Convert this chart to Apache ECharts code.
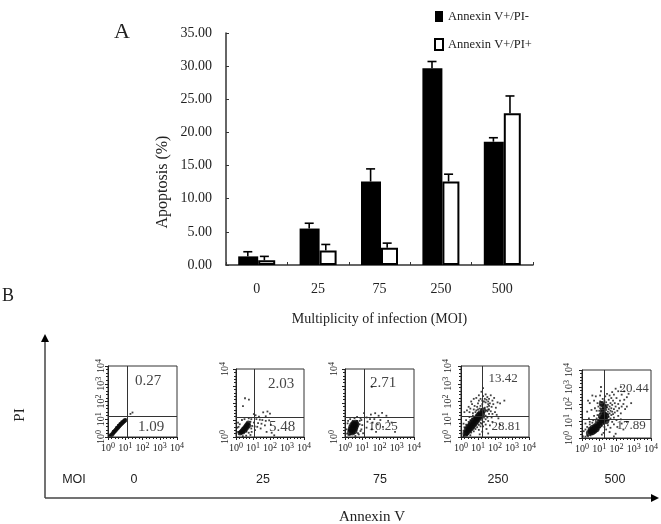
<!DOCTYPE html>
<html><head><meta charset="utf-8">
<style>html,body{margin:0;padding:0;background:#fff}#c{width:661px;height:524px}</style>
<script src="https://cdn.jsdelivr.net/npm/echarts@6/dist/echarts.min.js"></script>
</head><body><div id="c"></div>
<script>
const mois = ['0','25','75','250','500'];
const seriesNames = ['Annexin V+/PI-','Annexin V+/PI+'];
const earlyApoptosis = [1.3,5.5,12.6,29.7,18.6];
const lateApoptosis = [0.7,2.2,2.6,12.6,22.9];
const earlyErrorTop = [2.0,6.3,14.5,30.7,19.2];
const lateErrorTop = [1.3,3.1,3.3,13.7,25.5];
const upperRightPct = ['0.27','2.03','2.71','13.42','20.44'];
const lowerRightPct = ['1.09','5.48','10.25','28.81','17.89'];

const flow0 = [[.12,.08],[.16,.1],[.34,.22],[.42,.32],[.5,.42],[.6,.54],[.7,.64],[.8,.74],[.9,.84],[1.02,1.0],[.3,.34],[.48,.56],[.58,.68],[.68,.78],[.78,.88],[1.3,1.3],[1.42,1.38],[.1,.14],[.06,.06]];
const flow1 = [[.53,2.28],[.76,2.2],[.41,1.82],[1.05,1.35],[1.15,1.28],[1.6,1.45],[1.85,1.5],[2.0,1.38],[1.75,1.22],[1.35,1.2],[1.2,1.05],[1.4,1.02],[1.55,1.0],[1.75,.95],[1.95,.98],[1.3,.82],[1.5,.78],[1.7,.68],[2.05,.72],[1.25,.6],[1.45,.5],[1.8,.3],[2.1,.25],[2.25,.1],[1.05,.85],[1.1,.62],[1.12,.4],[.9,1.05],[.75,1.1],[.5,1.05],[.35,1.0],[.12,.85],[.08,.55],[.12,.3],[.92,.3],[.85,.12],[.6,.08],[.4,.05],[.95,.65],[.85,.9],[.9,.5],[.15,.6],[.22,.75],[.62,.32],[.75,.25]];
const flow2 = [[1.55,2.95],[1.1,1.4],[1.5,1.32],[1.75,1.4],[2.15,1.42],[1.95,1.25],[2.4,1.25],[1.25,1.15],[1.45,1.05],[1.7,1.05],[2.05,1.0],[2.5,.95],[2.7,.85],[1.3,.9],[1.6,.85],[1.9,.75],[2.2,.6],[2.9,.3],[1.25,.55],[1.55,.45],[1.8,.3],[.9,1.1],[.7,1.18],[.55,1.1],[.3,1.05],[.95,1.0],[1.0,.7],[.95,.45],[1.05,.22],[.8,.15],[.6,.06],[.15,.8],[.1,.45],[.12,.2],[.85,.75],[.2,.12],[.22,.4],[.28,.12],[.7,.95],[.85,.95],[.9,.35],[.75,.22],[.45,.95],[.18,.95]];
const flow3 = [[.55,.1],[.2,.12],[.3,.15],[.4,.15],[.6,.25],[.75,.32],[.85,.45],[.95,.55],[1.05,.68],[1.15,.8],[1.25,.95],[1.35,1.1],[1.45,1.2],[1.55,1.45],[1.55,1.7],[1.6,1.55],[1.6,1.85],
[.15,.05],[.35,.1],[.15,.35],[.2,.55],[.3,.7],[.45,.85],[.55,.95],[.65,1.05],[.8,1.1],[.9,1.25],[.7,1.2],[.5,1.12],[.3,.95],[.15,.75],
[.35,1.5],[.5,1.4],[.55,1.6],[.7,1.35],[.75,1.55],[.85,1.4],[.9,1.5],[.95,1.7],[.8,1.75],[.65,1.85],[.6,2.0],[1.0,1.35],[1.0,1.55],[1.0,1.9],[1.05,2.05],[1.15,1.75],[1.15,2.15],[1.25,1.85],[1.25,2.05],[1.3,2.3],[1.35,2.0],[1.4,2.15],[1.45,1.95],[1.45,2.4],[1.5,2.1],[1.55,2.25],[1.6,2.0],[1.65,2.15],[1.65,1.75],[1.7,1.9],[1.75,2.35],[1.8,1.7],[1.85,2.05],[1.9,1.85],[1.95,2.2],[2.05,1.65],[2.15,1.95],[2.3,1.9],[2.55,2.05],[1.05,2.35],[1.3,2.75],[1.2,2.55],[.2,1.4],[.45,1.7],[.75,2.15],[.9,2.2],
[1.15,.6],[1.2,.75],[1.3,.6],[1.35,.85],[1.45,1.0],[1.55,1.1],[1.6,.9],[1.65,1.3],[1.75,1.45],[1.8,1.1],[1.85,1.3],[2.0,1.4],[2.1,1.25],[1.45,.7],[1.5,.45],[1.7,.65],[1.85,.85],[2.2,1.05],[2.3,.7],[1.25,.3],[1.6,.2],[1.05,.4],[1.1,.15],[1.65,1.55],[1.4,1.65],[1.5,1.5],[1.2,1.55],[1.1,1.6],[1.3,1.45]];
const flow4 = [[.2,.08],[.3,.15],[.35,.1],[.5,.15],[.6,.22],[.75,.32],[.85,.4],[.95,.5],[1.05,.62],[1.15,.72],[1.25,.85],[1.35,.98],[1.45,1.05],[.1,.4],[.05,.1],[.2,.5],[.3,.65],[.45,.8],[.6,.9],[.8,1.0],
[.95,1.05],[.85,1.15],[.65,1.05],[.45,.95],[.4,1.15],[.7,1.3],[.9,1.35],[1.0,1.2],[1.05,1.45],[1.15,1.3],[1.2,1.45],[1.25,1.6],[1.3,1.35],[1.3,1.75],[1.35,1.5],[1.35,1.9],[1.4,1.45],[1.4,1.65],[1.45,1.8],[1.5,1.4],[1.5,1.55],[1.5,1.95],[1.55,1.25],[1.55,1.7],[1.6,1.45],[1.6,1.85],[1.65,1.6],[1.65,2.05],[1.7,1.35],[1.7,1.75],[1.75,1.55],[1.75,1.95],[1.8,1.4],[1.8,2.2],[1.85,1.7],[1.9,1.5],[1.9,2.05],[1.95,1.85],[2.0,2.35],[2.05,1.6],[2.1,2.0],[2.15,1.75],[2.2,2.2],[2.25,1.45],[2.3,1.85],[2.4,2.0],[2.5,1.7],[2.6,1.85],[2.3,2.55],[2.1,2.75],[1.95,2.9],[2.25,3.0],[2.45,2.75],[2.6,2.4],[2.7,2.6],[2.85,2.05],[2.45,2.25],[1.85,2.55],[1.7,2.35],[1.75,2.7],
[1.0,1.6],[1.05,1.75],[1.1,1.95],[1.15,1.6],[1.15,2.1],[1.2,1.75],[1.2,2.3],[1.25,2.0],[1.3,2.2],[1.05,2.15],[1.05,2.5],[1.1,2.75],[1.1,3.0],[1.35,2.45],[1.4,2.1],[1.45,2.6],[1.55,2.25],[1.6,2.5],[.95,1.85],[.9,2.05],[.85,1.6],[.75,1.75],[.7,2.2],[.55,1.65],[.45,2.05],[.35,2.2],[.3,1.55],[.6,2.5],[.8,2.45],[.2,.85],
[1.55,1.05],[1.65,1.15],[1.75,.95],[1.85,1.2],[2.0,1.05],[2.1,1.3],[2.25,1.1],[1.5,.75],[1.65,.6],[1.85,.8],[2.05,.65],[2.3,.85],[1.4,.5],[1.6,.35],[1.95,.25],[2.4,.5],[2.6,.95],[1.25,.3],[1.3,.65],[1.15,.2],[1.85,.1]];
const core0 = [[.22,.13],[.28,.2],[.34,.28],[.4,.34],[.46,.41],[.52,.48],[.58,.54],[.64,.6],[.7,.67],[.76,.73],[.82,.79],[.88,.85],[.94,.9],[.99,.94]];
const core1 = [[.24,.24],[.3,.3],[.36,.36],[.4,.3],[.42,.44],[.48,.5],[.5,.38],[.54,.58],[.58,.48],[.6,.66],[.66,.58],[.66,.74],[.72,.82],[.74,.68]];
const core2 = [[.3,.3],[.42,.26],[.54,.34],[.34,.44],[.46,.42],[.58,.48],[.36,.58],[.48,.56],[.62,.62],[.42,.7],[.54,.7],[.66,.74],[.5,.8],[.62,.84]];
const core3 = [[.26,.18],[.34,.26],[.42,.34],[.34,.42],[.5,.42],[.42,.54],[.58,.5],[.5,.62],[.66,.58],[.58,.72],[.74,.68],[.66,.82],[.82,.78],[.74,.92],[.9,.88],[.84,1.0],[.98,.98],[.94,1.1],[1.06,1.08],[1.04,1.22],[1.14,1.18],[1.14,1.34],[1.24,1.3],[1.3,1.5]];
const core4 = [[.4,.3],[.5,.38],[.6,.34],[.5,.5],[.62,.46],[.72,.42],[.62,.6],[.74,.56],[.84,.52],[.76,.68],[.88,.64],[.88,.8],[1.0,.76],[1.02,.92],[1.12,.9],[1.14,1.06],[1.24,1.04],[1.22,1.2],[1.32,1.18],[1.3,1.36],[1.2,1.6],[1.3,1.85],[1.15,2.0],[1.4,.98],[1.4,1.3],[1.1,1.3]];
const flowPoints = [flow0,flow1,flow2,flow3,flow4];
const flowCores = [core0,core1,core2,core3,core4];
const yLabelled = [[0,1,2,3,4],[0,4],[0,4],[0,1,2,3,4],[0,1,2,3,4]];
const gateX = [1.1,1.1,1.1,1.24,1.28];
const gateY = [1.18,1.15,1.15,1.18,1.08];

// layout
const panelBoxes = [[108,366,69,71],[236,369,68,68],[345,369,69,68],[461,366,68,71],[582,370,69,68]];
const upperPos = [[148,381],[281,384],[383,383],[503,379],[634,389]];
const lowerPos = [[151,427],[282,427],[383,427],[506,427],[631,426]];
const upperFont = [15,15,15,13,13];
const lowerFont = [15,15,13,13,13];
const moiPos = [134,263,380,498,615];
const yLabelMargin = [0,4,4,6,6];
const coreSize = [4.5,5,6,6,6];
const serif = '"Liberation Serif"';
const ink = '#222';

const grids = [{left:226,top:33,width:307,height:232}];
const xAxes = [{
  type:'category',data:mois,gridIndex:0,
  axisLine:{lineStyle:{color:'#333',width:1.5}},
  axisTick:{show:true,inside:true,length:3,alignWithLabel:false,lineStyle:{color:'#333'}},
  axisLabel:{color:ink,fontFamily:serif,fontSize:14,margin:17},
  name:'Multiplicity of infection (MOI)',nameLocation:'middle',nameGap:47,
  nameTextStyle:{color:ink,fontFamily:serif,fontSize:14}
}];
const yAxes = [{
  type:'value',min:0,max:35,interval:5,gridIndex:0,
  axisLine:{show:true,lineStyle:{color:'#333',width:1.5}},
  axisTick:{show:true,inside:true,length:3,lineStyle:{color:'#333'}},
  splitLine:{show:false},
  axisLabel:{color:ink,fontFamily:serif,fontSize:14,margin:14,formatter:v=>v.toFixed(2)}
}];

function errorSeries(top,base,frac,name){
  return {
    type:'custom',name:name+' error',z:3,silent:true,
    data:top.map((t,i)=>[i,base[i],t]),
    encode:{x:0,y:2},
    renderItem(p,api){
      const i=api.value(0);
      const band=api.size([1,0])[0];
      const off=band*frac;
      const a=api.coord([i,api.value(1)]), b=api.coord([i,api.value(2)]);
      const x=a[0]+off;
      return {type:'group',children:[
        {type:'line',shape:{x1:x,y1:a[1],x2:x,y2:b[1]},style:{stroke:'#000',lineWidth:1.6}},
        {type:'line',shape:{x1:x-4.5,y1:b[1],x2:x+4.5,y2:b[1]},style:{stroke:'#000',lineWidth:1.6}}
      ]};
    }
  };
}

const series = [
  {type:'bar',name:seriesNames[0],data:earlyApoptosis,barWidth:20,barGap:'0%',itemStyle:{color:'#000',borderColor:'#000',borderWidth:0}},
  {type:'bar',name:seriesNames[1],data:lateApoptosis,barWidth:17,barGap:'0%',itemStyle:{color:'#fff',borderColor:'#000',borderWidth:2}},
  errorSeries(earlyErrorTop,earlyApoptosis,-0.145,seriesNames[0]),
  errorSeries(lateErrorTop,lateApoptosis,0.125,seriesNames[1])
];

const sup = {s:{fontSize:8,verticalAlign:'bottom',padding:[0,0,5,0],fontFamily:serif,color:ink},b:{fontSize:10,fontFamily:serif,color:ink}};
panelBoxes.forEach((b,k)=>{
  const idx=k+1;
  grids.push({left:b[0],top:b[1],width:b[2],height:b[3],show:true,borderColor:'#333',borderWidth:1,backgroundColor:'transparent'});
  const minor={show:true,splitNumber:5,length:2,lineStyle:{color:'#222'}};
  xAxes.push({type:'value',gridIndex:idx,min:0,max:4,interval:1,
    axisLine:{show:true,lineStyle:{color:'#222'}},
    axisTick:{show:true,length:3,lineStyle:{color:'#222'}},minorTick:minor,splitLine:{show:false},minorSplitLine:{show:false},
    axisLabel:{margin:5,hideOverlap:false,showMinLabel:true,showMaxLabel:true,rich:sup,formatter:v=>'{b|10}{s|'+v+'}'}});
  yAxes.push({type:'value',gridIndex:idx,min:0,max:4,interval:1,
    axisLine:{show:true,lineStyle:{color:'#222'}},
    axisTick:{show:true,length:3,lineStyle:{color:'#222'}},minorTick:minor,splitLine:{show:false},minorSplitLine:{show:false},
    axisLabel:{margin:yLabelMargin[k],rotate:90,hideOverlap:false,showMinLabel:true,showMaxLabel:true,rich:sup,
      formatter:v=>yLabelled[k].includes(v)?'{b|10}{s|'+v+'}':''}});
  series.push({type:'scatter',xAxisIndex:idx,yAxisIndex:idx,data:flowPoints[k],symbol:'rect',symbolSize:1.8,silent:true,
    itemStyle:{color:'#111'},
    markLine:{silent:true,symbol:'none',animation:false,label:{show:false},lineStyle:{color:'#333',width:1,type:'solid'},
      data:[{xAxis:gateX[k]},{yAxis:gateY[k]}]}});
  series.push({type:'scatter',xAxisIndex:idx,yAxisIndex:idx,data:flowCores[k],symbol:'circle',symbolSize:coreSize[k],silent:true,
    itemStyle:{color:'#0a0a0a'}});
});

function txt(x,y,text,font,family,extra){
  return {type:'text',x,y,style:Object.assign({text,fontSize:font,fontFamily:family,fill:ink,align:'center',verticalAlign:'middle'},extra||{})};
}
const graphics = [
  txt(122,32,'A',22,serif),
  txt(8,296,'B',18,serif),
  {type:'text',x:163,y:182,rotation:Math.PI/2,style:{text:'Apoptosis (%)',fontSize:16,fontFamily:serif,fill:ink,align:'center',verticalAlign:'middle'}},
  {type:'text',x:20,y:415,rotation:Math.PI/2,style:{text:'PI',fontSize:15,fontFamily:serif,fill:ink,align:'center',verticalAlign:'middle'}},
  txt(372,517,'Annexin V',15,serif),
  txt(74,480,'MOI',12.5,'"Liberation Sans"'),
  {type:'line',shape:{x1:45,y1:498,x2:45,y2:340},style:{stroke:'#444',lineWidth:1.5}},
  {type:'line',shape:{x1:45,y1:498,x2:652,y2:498},style:{stroke:'#444',lineWidth:1.5}},
  {type:'polygon',shape:{points:[[45,334],[41,342],[49,342]]},style:{fill:'#000'}},
  {type:'polygon',shape:{points:[[659,498],[651,494],[651,502]]},style:{fill:'#000'}}
];
mois.forEach((m,k)=>{
  graphics.push(txt(moiPos[k],480,m,12.5,'"Liberation Sans"'));
  graphics.push(txt(upperPos[k][0],upperPos[k][1],upperRightPct[k],upperFont[k],serif,{fill:'#444'}));
  graphics.push(txt(lowerPos[k][0],lowerPos[k][1],lowerRightPct[k],lowerFont[k],serif,{fill:'#444'}));
});

const chart = echarts.init(document.getElementById('c'),null,{renderer:'canvas'});
chart.setOption({
  animation:false,backgroundColor:'#fff',
  grid:grids,xAxis:xAxes,yAxis:yAxes,series,
  legend:{data:seriesNames.map(n=>({name:n,icon:'rect'})),orient:'vertical',left:434,top:10,padding:0,itemWidth:8,itemHeight:11,itemGap:15,
    textStyle:{color:ink,fontFamily:serif,fontSize:12.5},selectedMode:false},
  graphic:{elements:graphics}
});
</script></body></html>
